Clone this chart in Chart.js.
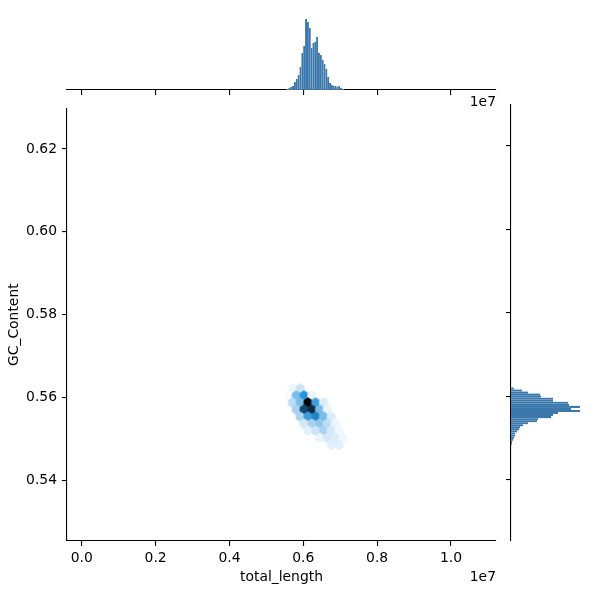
<!DOCTYPE html>
<html>
<head>
<meta charset="utf-8">
<script src="https://cdn.jsdelivr.net/npm/chart.js@4.4.1/dist/chart.umd.min.js"></script>
<style>
  body { margin: 0; background: #fff; }
  #wrap { position: relative; width: 600px; height: 600px; }
  canvas { position: absolute; }
</style>
</head>
<body>
<div id="wrap">
  <canvas id="margX" width="500" height="100" style="left:0px;top:0px"></canvas>
  <canvas id="joint" width="500" height="505" style="left:0px;top:95px"></canvas>
  <canvas id="margY" width="95" height="505" style="left:505px;top:95px"></canvas>
</div>
<script>
// axis ticks
const xTicks = [0, 2e6, 4e6, 6e6, 8e6, 10e6];
const yTicks = [0.54, 0.56, 0.58, 0.60, 0.62];

// hexbin cells (centres and counts)
const hexX = [5.702e6, 5.914e6,
  5.597e6, 5.808e6, 6.019e6, 6.231e6,
  5.702e6, 5.914e6, 6.125e6, 6.336e6, 6.548e6,
  5.808e6, 6.019e6, 6.231e6, 6.442e6, 6.654e6,
  5.914e6, 6.125e6, 6.336e6, 6.548e6, 6.759e6,
  6.019e6, 6.231e6, 6.442e6, 6.654e6, 6.865e6,
  6.125e6, 6.336e6, 6.548e6, 6.759e6, 6.971e6,
  6.442e6, 6.654e6, 6.865e6, 7.076e6,
  6.759e6, 6.971e6];
const hexY = [0.5622, 0.5622,
  0.5605, 0.5605, 0.5605, 0.5605,
  0.5588, 0.5588, 0.5588, 0.5588, 0.5588,
  0.5571, 0.5571, 0.5571, 0.5571, 0.5571,
  0.5554, 0.5554, 0.5554, 0.5554, 0.5554,
  0.5537, 0.5537, 0.5537, 0.5537, 0.5537,
  0.5520, 0.5520, 0.5520, 0.5520, 0.5520,
  0.5503, 0.5503, 0.5503, 0.5503,
  0.5486, 0.5486];
const hexCount = [3, 8,
  2, 19, 30, 4,
  10, 19, 60, 27, 6,
  13, 45, 51, 19, 4,
  13, 27, 33, 19, 6,
  7, 13, 16, 10, 4,
  5, 8, 13, 7, 3,
  4, 7, 6, 3,
  5, 5];

// marginal histogram of total_length
const lenBins = [5.575e6, 5.625e6, 5.675e6, 5.725e6, 5.775e6, 5.825e6, 5.875e6, 5.925e6,
  5.975e6, 6.025e6, 6.075e6, 6.125e6, 6.175e6, 6.225e6, 6.275e6, 6.325e6, 6.375e6,
  6.425e6, 6.475e6, 6.525e6, 6.575e6, 6.625e6, 6.675e6, 6.725e6, 6.775e6, 6.825e6,
  6.875e6, 6.925e6, 6.975e6, 7.025e6, 7.075e6];
const lenCounts = [1, 2, 3, 4, 8, 11, 15, 23, 37, 44, 71, 68, 62, 42, 47, 48, 53,
  37, 35, 30, 26, 21, 13, 7, 5, 4, 4, 3, 4, 2, 1];

// marginal histogram of GC_Content
const gcBins = [0.56192, 0.56143, 0.56094, 0.56045, 0.55996, 0.55947, 0.55898, 0.55849,
  0.55800, 0.55751, 0.55702, 0.55653, 0.55604, 0.55555, 0.55506, 0.55457, 0.55408,
  0.55359, 0.55310, 0.55261, 0.55212, 0.55163, 0.55114, 0.55065, 0.55016, 0.54967,
  0.54918, 0.54869];
const gcCounts = [3, 11, 17, 29, 30, 42, 42, 57, 58, 69, 60, 69, 47, 42, 40, 27, 26,
  17, 12, 9, 8, 6, 4, 4, 3, 2, 1, 1];

const xMin = -0.04e7, xMax = 1.122e7;
const yMin = 0.5254, yMax = 0.6298;
const hexW = 211400, hexH = 0.0034;   // hex lattice spacing
const font = { family: 'DejaVu Sans', size: 13.9 };
const barColor = '#3a77ab';

Chart.defaults.color = '#000';
Chart.defaults.font.family = 'DejaVu Sans';

const maxCount = Math.max(...hexCount);
function hexColor(c) {
  const t = (c - 1) / (maxCount - 1);
  return `hsl(204.5, 70.6%, ${((1 - t) * 100).toFixed(1)}%)`;
}

const hexCache = {};
function hexStyle(ctx) {
  const raw = ctx.raw;
  const xs = ctx.chart.scales.x, ys = ctx.chart.scales.y;
  if (!raw || !xs || !ys) return 'circle';
  const w = Math.abs(xs.getPixelForValue(raw.x + hexW / 2) - xs.getPixelForValue(raw.x - hexW / 2));
  const h = Math.abs(ys.getPixelForValue(raw.y + hexH / 3) - ys.getPixelForValue(raw.y - hexH / 3));
  const col = hexColor(raw.c);
  const key = col + '|' + w.toFixed(2) + '|' + h.toFixed(2);
  if (hexCache[key]) return hexCache[key];
  const cv = document.createElement('canvas');
  cv.width = Math.ceil(w) + 4;
  cv.height = Math.ceil(h) + 4;
  const g = cv.getContext('2d');
  const cx = cv.width / 2, cy = cv.height / 2;
  g.beginPath();
  g.moveTo(cx, cy - h / 2);
  g.lineTo(cx + w / 2, cy - h / 4);
  g.lineTo(cx + w / 2, cy + h / 4);
  g.lineTo(cx, cy + h / 2);
  g.lineTo(cx - w / 2, cy + h / 4);
  g.lineTo(cx - w / 2, cy - h / 4);
  g.closePath();
  g.fillStyle = col;
  g.strokeStyle = col;
  g.lineWidth = 1;
  g.fill();
  g.stroke();
  hexCache[key] = cv;
  return cv;
}

const axisGrid = { drawOnChartArea: false, drawTicks: true, tickLength: 5, color: '#000', lineWidth: 1.1, offset: false };
const axisBorder = { display: true, color: '#000', width: 1.1 };

const offsetText = {
  id: 'offsetText',
  afterDraw(chart) {
    const { ctx, chartArea } = chart;
    ctx.save();
    ctx.font = '13.9px "DejaVu Sans"';
    ctx.fillStyle = '#000';
    ctx.textAlign = 'right';
    ctx.textBaseline = 'middle';
    ctx.fillText('1e7', chartArea.right, 482);
    ctx.fillText('1e7', chartArea.right, 7);
    ctx.restore();
  }
};

// joint hexbin
new Chart(document.getElementById('joint'), {
  type: 'scatter',
  data: {
    datasets: [{
      data: hexX.map((x, i) => ({ x: x, y: hexY[i], c: hexCount[i] })),
      pointStyle: hexStyle,
      pointRadius: 4,
      borderWidth: 0
    }]
  },
  options: {
    responsive: false,
    animation: false,
    events: [],
    layout: { padding: { top: 10, right: 4, left: 0, bottom: 0 } },
    plugins: { legend: { display: false }, tooltip: { enabled: false } },
    scales: {
      x: {
        type: 'linear', min: xMin, max: xMax,
        afterBuildTicks: s => { s.ticks = xTicks.map(v => ({ value: v })); },
        afterFit: s => { s.height = 59; },
        ticks: { font: font, padding: 4, maxRotation: 0, callback: v => (v / 1e7).toFixed(1) },
        grid: axisGrid, border: axisBorder,
        title: { display: true, text: 'total_length', font: font, padding: { top: 0, bottom: 14.7 } }
      },
      y: {
        type: 'linear', min: yMin, max: yMax,
        afterBuildTicks: s => { s.ticks = yTicks.map(v => ({ value: v })); },
        afterFit: s => { s.width = 67; },
        ticks: { font: font, padding: 5, callback: v => v.toFixed(2) },
        grid: axisGrid, border: axisBorder,
        title: { display: true, text: 'GC_Content', font: font, padding: { top: 5.7, bottom: 0 } }
      }
    }
  },
  plugins: [offsetText]
});

// top marginal histogram
new Chart(document.getElementById('margX'), {
  type: 'bar',
  data: {
    datasets: [{
      data: lenBins.map((x, i) => ({ x: x, y: lenCounts[i] })),
      backgroundColor: barColor,
      borderColor: 'rgba(255,255,255,0.3)',
      borderWidth: 0.3,
      barPercentage: 1,
      categoryPercentage: 1
    }]
  },
  options: {
    responsive: false,
    animation: false,
    events: [],
    layout: { padding: { top: 3, right: 4, left: 67, bottom: 0 } },
    plugins: { legend: { display: false }, tooltip: { enabled: false } },
    scales: {
      x: {
        type: 'linear', min: xMin, max: xMax, offset: false,
        afterBuildTicks: s => { s.ticks = xTicks.map(v => ({ value: v })); },
        afterFit: s => { s.height = 10; },
        ticks: { display: false },
        grid: axisGrid, border: axisBorder
      },
      y: { display: false, min: 0, max: 87 }
    }
  }
});

// right marginal histogram
new Chart(document.getElementById('margY'), {
  type: 'bar',
  data: {
    datasets: [{
      data: gcBins.map((y, i) => ({ x: gcCounts[i], y: y })),
      backgroundColor: barColor,
      borderColor: 'rgba(255,255,255,0.3)',
      borderWidth: 0.3,
      barPercentage: 1,
      categoryPercentage: 1
    }]
  },
  options: {
    indexAxis: 'y',
    responsive: false,
    animation: false,
    events: [],
    layout: { padding: { top: 10, right: 2, left: 0, bottom: 59 } },
    plugins: { legend: { display: false }, tooltip: { enabled: false } },
    scales: {
      y: {
        type: 'linear', position: 'left', min: yMin, max: yMax, offset: false,
        afterBuildTicks: s => { s.ticks = yTicks.map(v => ({ value: v })); },
        afterFit: s => { s.width = 6; },
        ticks: { display: false },
        grid: axisGrid, border: axisBorder
      },
      x: { type: 'linear', display: false, min: 0, max: 87 }
    }
  }
});
</script>
</body>
</html>
